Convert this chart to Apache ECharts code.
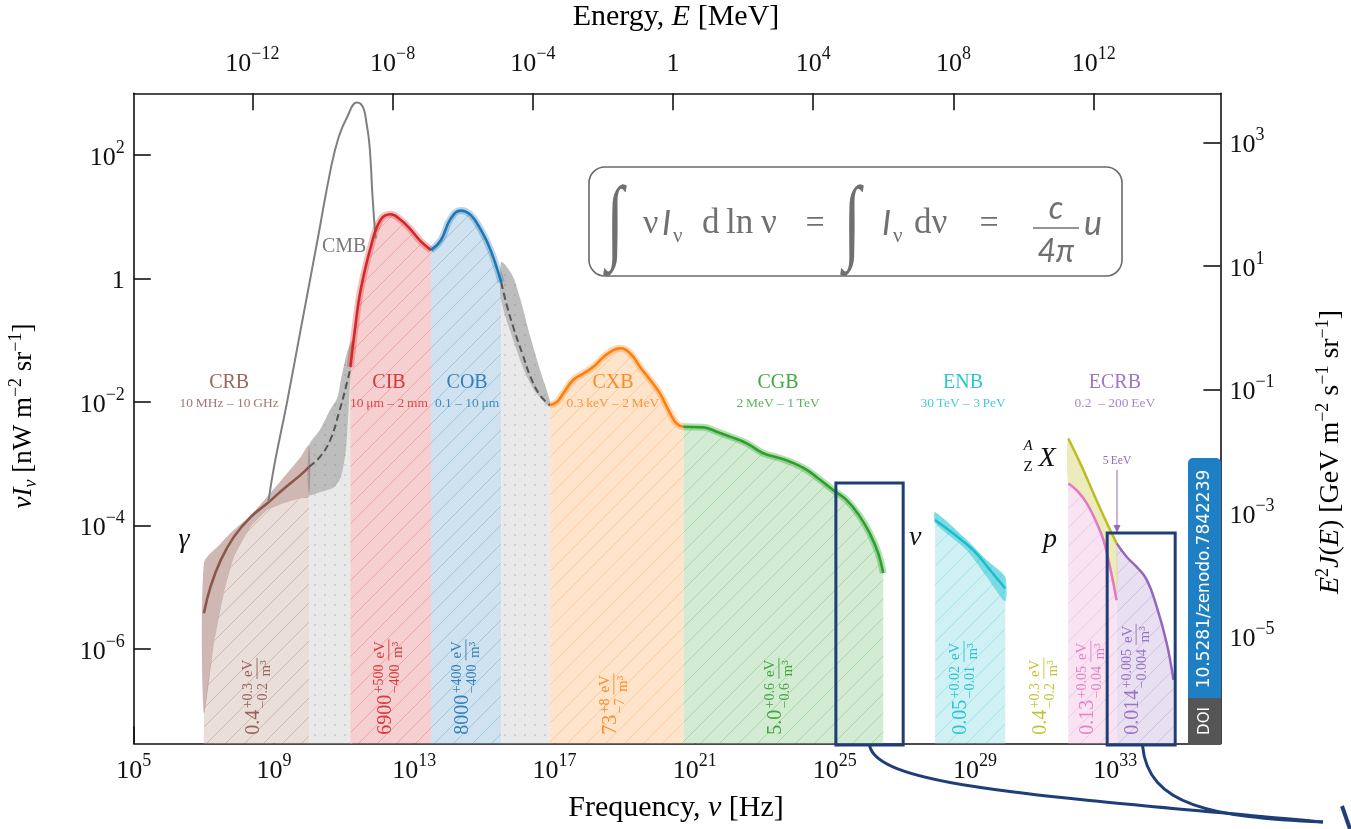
<!DOCTYPE html>
<html>
<head>
<meta charset="utf-8">
<script src="https://cdn.jsdelivr.net/npm/echarts@6/dist/echarts.min.js"></script>
<style>
  html, body { margin: 0; padding: 0; background: #fff; }
  #chart { width: 1351px; height: 829px; }
</style>
</head>
<body>
<div id="chart"></div>
<script>
// All curves are stored as [log10(nu / Hz), log10(nu I_nu / nW m^-2 sr^-1)] pairs.
const freqTicks = [5, 9, 13, 17, 21, 25, 29, 33];
const energyTicks = [-12, -8, -4, 0, 4, 8, 12];
const fluxTicks = [-6, -4, -2, 0, 2];
const e2jTicks = [-5, -3, -1, 1, 3];
const LOG_H_MEV = -20.3835;     // log10 of Planck constant in MeV s
const LOG_NW_TO_GEV = 0.7953;   // 1 nW = 6.242 GeV/s

const cmbCurve = [[8.84,-3.61],[9.00,-3.05],[9.19,-2.51],[9.38,-1.98],[9.76,-0.83],[10.24,0.62],[10.62,1.78],[10.85,2.30],[11.09,2.62],[11.36,2.85],[11.47,2.83],[11.57,2.73],[11.64,2.51],[11.71,2.24],[11.76,1.87],[11.80,1.43],[11.85,1.00],[11.90,0.65]];

const crbCurve = [[7.00,-5.42],[7.19,-4.99],[7.48,-4.56],[7.86,-4.18],[8.34,-3.86],[8.81,-3.64],[9.29,-3.40],[9.76,-3.18],[10.00,-3.05]];
const crbUpper = [[7.00,-4.61],[7.48,-4.29],[7.86,-4.07],[8.34,-3.83],[8.81,-3.53],[9.29,-3.21],[9.76,-2.89],[10.00,-2.70]];
const crbLower = [[7.00,-7.04],[7.29,-5.91],[7.57,-5.10],[7.86,-4.51],[8.34,-4.02],[8.81,-3.75],[9.29,-3.64],[9.76,-3.56],[10.00,-3.53]];

const radioGapUpper = [[10.00,-2.70],[10.31,-2.45],[10.60,-2.13],[10.80,-1.94],[10.91,-1.64],[11.08,-1.21],[11.23,-1.00]];
const radioGapLower = [[10.00,-3.50],[10.31,-3.46],[10.71,-3.38],[10.91,-3.21],[11.05,-2.78],[11.14,-1.97],[11.20,-1.45]];
const radioGapMid = [[10.00,-3.05],[10.31,-2.89],[10.60,-2.62],[10.85,-2.18],[11.08,-1.69],[11.19,-1.43]];

const cibCurve = [[11.18,-1.43],[11.33,-0.73],[11.47,-0.19],[11.76,0.51],[12.04,0.95],[12.33,1.04],[12.61,0.95],[12.90,0.79],[13.19,0.60],[13.48,0.46]];
const cobCurve = [[13.48,0.46],[13.76,0.62],[14.04,0.97],[14.33,1.10],[14.61,1.03],[14.90,0.79],[15.18,0.46],[15.48,-0.06]];

const uvGapUpper = [[15.48,0.27],[15.79,0.06],[16.02,-0.32],[16.30,-0.92],[16.59,-1.48],[16.87,-1.97]];
const uvGapLower = [[15.48,-0.35],[15.85,-1.04],[16.13,-1.48],[16.42,-1.81],[16.73,-2.02],[16.87,-2.08]];
const uvGapMid = [[15.48,-0.06],[15.65,-0.45],[15.85,-0.83],[16.08,-1.21],[16.33,-1.61],[16.59,-1.89],[16.87,-2.05]];

const cxbCurve = [[16.87,-2.05],[17.07,-2.00],[17.25,-1.86],[17.54,-1.64],[17.82,-1.54],[18.11,-1.43],[18.40,-1.27],[18.68,-1.16],[18.87,-1.13],[19.16,-1.21],[19.44,-1.43],[19.73,-1.64],[20.01,-1.86],[20.30,-2.18],[20.49,-2.35],[20.68,-2.40]];
const cgbCurve = [[20.68,-2.40],[21.25,-2.41],[21.63,-2.48],[22.01,-2.56],[22.49,-2.67],[22.96,-2.83],[23.44,-2.91],[23.82,-2.99],[24.20,-3.10],[24.58,-3.26],[24.96,-3.43],[25.34,-3.59],[25.72,-3.86],[26.00,-4.13],[26.24,-4.45],[26.38,-4.77]];

const enbCurve = [[27.86,-3.91],[28.38,-4.13],[28.95,-4.40],[29.43,-4.72],[29.86,-5.02]];
const enbUpper = [[27.86,-3.78],[28.76,-4.23],[29.33,-4.56],[29.86,-4.83]];
const enbLower = [[27.86,-3.96],[28.76,-4.40],[29.33,-4.83],[29.86,-5.23]];

const nucleiCurve = [[31.66,-2.59],[32.00,-2.99],[32.38,-3.48],[32.76,-3.96],[33.04,-4.29]];
const protonCurve = [[31.66,-3.32],[31.90,-3.43],[32.19,-3.64],[32.47,-3.96],[32.66,-4.23],[32.85,-4.67],[33.04,-5.21]];
const ecrbCurve = [[33.04,-4.29],[33.33,-4.51],[33.61,-4.67],[33.90,-4.88],[34.18,-5.31],[34.47,-5.91],[34.66,-6.50]];

const bandNames = ['CRB', 'CIB', 'COB', 'CXB', 'CGB', 'ENB', 'ECRB'];
const bandRanges = ['10\u2009MHz \u2013 10\u2009GHz', '10\u2009\u03bcm \u2013 2\u2009mm', '0.1 \u2013 10\u2009\u03bcm', '0.3\u2009keV \u2013 2\u2009MeV', '2\u2009MeV \u2013 1\u2009TeV', '30\u2009TeV \u2013 3\u2009PeV', '0.2  \u2013 200\u2009EeV'];
const energyDensities = [
  ['0.4', '+0.3', '\u22120.2'], ['6900', '+500', '\u2212400'], ['8000', '+400', '\u2212400'],
  ['73', '+8', '\u22127'], ['5.0', '+0.6', '\u22120.6'], ['0.05', '+0.02', '\u22120.01'],
  ['0.4', '+0.3', '\u22120.2'], ['0.13', '+0.05', '\u22120.04'], ['0.014', '+0.005', '\u22120.004']
];

// Placement of annotations (log10 nu, log10 flux)
const bandNameNu = [7.72, 12.28, 14.51, 18.67, 23.38, 28.66, 32.99];
const bandNameY = -1.69, bandRangeY = -2.02;
const densityNu = [8.43, 12.19, 14.39, 18.61, 23.32, 28.60, 30.88, 32.22, 33.51];
const densityY = -7.39;
const zoomBoxes = [[25.03, 26.95, -3.31], [32.77, 34.71, -4.12]];
const ankleNu = 33.05;

const SERIF = '"Liberation Serif", "DejaVu Serif", serif';
const SANS = 'Lato, "Open Sans", sans-serif';
const COL = {
  crb: '#8c564b', cmb: '#7f7f7f', cib: '#d62728', cob: '#1f77b4', cxb: '#ff7f0e', cgb: '#2ca02c',
  enb: '#17becf', nuc: '#bcbd22', pro: '#e377c2', ecrb: '#9467bd', box: '#1f3e78', gap: '#555555'
};

const X_MIN = 5, X_MAX = 36, Y_MIN = -7.53, Y_MAX = 3;
const SMOOTH = 0.45;

// ---- fill patterns -------------------------------------------------------
function hatch(bg, line, alpha) {
  const s = 19, c = document.createElement('canvas');
  c.width = c.height = s;
  const g = c.getContext('2d');
  g.fillStyle = bg; g.fillRect(0, 0, s, s);
  g.globalAlpha = alpha; g.strokeStyle = line; g.lineWidth = 1;
  g.beginPath();
  g.moveTo(-2, s + 2); g.lineTo(s + 2, -2);
  g.moveTo(-2, 2); g.lineTo(2, -2);
  g.moveTo(s - 2, s + 2); g.lineTo(s + 2, s - 2);
  g.stroke();
  return { image: c, repeat: 'repeat' };
}
function dots(bg, dot) {
  const s = 10, c = document.createElement('canvas');
  c.width = c.height = s;
  const g = c.getContext('2d');
  g.fillStyle = bg; g.fillRect(0, 0, s, s);
  g.fillStyle = dot;
  g.beginPath(); g.arc(5, 5, 0.9, 0, Math.PI * 2); g.fill();
  return { image: c, repeat: 'repeat' };
}

// ---- series builders ------------------------------------------------------
function fill(data, color, z) {
  return { type: 'line', data, z, symbol: 'none', silent: true, smooth: SMOOTH,
    lineStyle: { width: 0, opacity: 0 }, areaStyle: { color, opacity: 1, origin: 'start' },
    emphasis: { disabled: true } };
}
function curve(data, color, width, z, extra) {
  return Object.assign({ type: 'line', data, z, symbol: 'none', silent: true, smooth: SMOOTH,
    lineStyle: { color, width }, emphasis: { disabled: true } }, extra || {});
}
function band(upper, lower, color, z) {
  const pts = upper.concat(lower.slice().reverse());
  return { type: 'custom', coordinateSystem: 'cartesian2d', data: pts, z, silent: true, clip: true,
    renderItem: (params, api) => {
      if (params.dataIndex !== 0) return null;
      return { type: 'polygon', shape: { points: pts.map(p => api.coord(p)), smooth: 0.25 },
        style: { fill: color } };
    } };
}

const series = [
  fill(crbLower, hatch('#eadedb', COL.crb, 0.28), 1),
  fill(radioGapUpper, dots('#e9e9e9', '#c4c4c4'), 1),
  fill(cibCurve, hatch('#f6d0d1', COL.cib, 0.25), 1),
  fill(cobCurve, hatch('#d0e2ef', COL.cob, 0.25), 1),
  fill(uvGapUpper, dots('#e9e9e9', '#c4c4c4'), 1),
  fill(cxbCurve, hatch('#ffe4cc', COL.cxb, 0.25), 1),
  fill(cgbCurve, hatch('#d3ebd3', COL.cgb, 0.25), 1),
  fill(enbUpper, hatch('#cff1f4', COL.enb, 0.25), 1),
  fill(protonCurve, hatch('#f9e2f2', COL.pro, 0.25), 1),
  fill(ecrbCurve, hatch('#e8dff1', COL.ecrb, 0.25), 1),
  band(nucleiCurve, protonCurve, 'rgba(188,189,34,0.30)', 2),
  band(crbUpper, crbLower, 'rgba(140,86,75,0.42)', 2),
  band(radioGapUpper, radioGapLower, 'rgba(110,110,110,0.35)', 2),
  band(uvGapUpper, uvGapLower, 'rgba(110,110,110,0.35)', 2),
  band(enbUpper, enbLower, 'rgba(23,190,207,0.45)', 2),
  curve(cibCurve, 'rgba(214,39,40,0.3)', 7, 3),
  curve(cobCurve, 'rgba(31,119,180,0.3)', 7, 3),
  curve(cxbCurve, 'rgba(255,127,14,0.3)', 7, 3),
  curve(cgbCurve, 'rgba(44,160,44,0.35)', 7, 3),
  curve(crbCurve, COL.crb, 2.6, 4),
  curve(cmbCurve, COL.cmb, 2, 4),
  curve(radioGapMid, COL.gap, 2, 4, { lineStyle: { color: COL.gap, width: 2, type: [7, 4] } }),
  curve(uvGapMid, COL.gap, 2, 4, { lineStyle: { color: COL.gap, width: 2, type: [7, 4] } }),
  curve(cibCurve, COL.cib, 2.6, 4),
  curve(cobCurve, COL.cob, 2.6, 4),
  curve(cxbCurve, COL.cxb, 2.6, 4),
  curve(cgbCurve, COL.cgb, 2.6, 4),
  curve(enbCurve, COL.enb, 2.5, 4),
  curve(nucleiCurve, COL.nuc, 2.5, 4),
  curve(protonCurve, COL.pro, 2.5, 4),
  curve(ecrbCurve, COL.ecrb, 2.5, 4)
];

// ---- axes ---------------------------------------------------------------
const tickRich = {
  b: { fontFamily: SERIF, fontSize: 26, color: '#111', lineHeight: 32, verticalAlign: 'bottom' },
  s: { fontFamily: SERIF, fontSize: 18, color: '#111', lineHeight: 20, verticalAlign: 'top' }
};
function powLabel(v) {
  const n = Math.round(v);
  if (n === 0) return '{b|1}';
  return '{b|10}{s|' + (n < 0 ? '\u2212' + (-n) : n) + '}';
}
function axisCommon(ticks, extra, margin) {
  return Object.assign({
    type: 'value', splitLine: { show: false },
    axisLine: { show: true, onZero: false, lineStyle: { color: '#111', width: 1.6 } },
    axisTick: { show: true, inside: true, length: 17, customValues: ticks, lineStyle: { color: '#111', width: 1.6 } },
    minorTick: { show: false },
    axisLabel: { customValues: ticks, formatter: powLabel, rich: tickRich, margin: margin || 9 }
  }, extra);
}

const option = {
  animation: false,
  backgroundColor: '#fff',
  grid: { left: 133.8, right: 130.6, top: 93.25, bottom: 85.5, containLabel: false },
  xAxis: [
    axisCommon(freqTicks, { min: X_MIN, max: X_MAX, position: 'bottom' }),
    axisCommon(energyTicks, { min: X_MIN + LOG_H_MEV, max: X_MAX + LOG_H_MEV, position: 'top' }, 16)
  ],
  yAxis: [
    axisCommon(fluxTicks, { min: Y_MIN, max: Y_MAX, position: 'left' }),
    axisCommon(e2jTicks, { min: Y_MIN + LOG_NW_TO_GEV, max: Y_MAX + LOG_NW_TO_GEV, position: 'right' })
  ],
  series
};

const chart = echarts.init(document.getElementById('chart'));
chart.setOption(option);

// ---- annotations --------------------------------------------------------
const mctx = document.createElement('canvas').getContext('2d');
function textWidth(t, font) { mctx.font = font; return mctx.measureText(t).width; }
const toPx = (nu, f) => chart.convertToPixel({ xAxisIndex: 0, yAxisIndex: 0 }, [nu, f]);
const Z = 100;

function txt(x, y, text, font, fill, align, extra, opacity) {
  return Object.assign({ type: 'text', x, y, z: Z, silent: true,
    style: { text, font, fill, textAlign: align || 'center', textVerticalAlign: 'middle', opacity: opacity == null ? 1 : opacity } }, extra || {});
}

function densityLabel(p, vals, color) {
  const [main, up, lo] = vals;
  const fMain = '20px ' + SERIF, fScr = '14px ' + SERIF, fFrac = '15px ' + SERIF;
  const w1 = textWidth(main, fMain);
  const ws = Math.max(textWidth(up, fScr), textWidth(lo, fScr));
  const x0 = w1 + 1.5 + ws + 4;
  const wf = Math.max(textWidth('eV', fFrac), textWidth('m3', fFrac)) + 2;
  const t = (text, x, y, font, align) => ({ type: 'text', z: Z, silent: true,
    style: { text, x, y, font, fill: color, textAlign: align || 'left', textVerticalAlign: 'middle', opacity: 0.9 } });
  return { type: 'group', x: p[0], y: p[1], rotation: Math.PI / 2, z: Z, silent: true, children: [
    t(main, 0, 0, fMain),
    t(up, w1 + 1.5, -6, fScr),
    t(lo, w1 + 1.5, 9.5, fScr),
    t('eV', x0 + wf / 2, -5.5, fFrac, 'center'),
    { type: 'line', z: Z, silent: true, shape: { x1: x0, y1: 3, x2: x0 + wf, y2: 3 }, style: { stroke: color, lineWidth: 0.9, opacity: 0.9 } },
    t('m\u00b3', x0 + wf / 2, 12, fFrac, 'center')
  ] };
}

const bandColors = [COL.crb, COL.cib, COL.cob, COL.cxb, COL.cgb, COL.enb, COL.ecrb];
const densityColors = [COL.crb, COL.cib, COL.cob, COL.cxb, COL.cgb, COL.enb, COL.nuc, COL.pro, COL.ecrb];
const graphics = [];

bandNames.forEach((n, i) => {
  const a = toPx(bandNameNu[i], bandNameY), b = toPx(bandNameNu[i], bandRangeY);
  graphics.push(txt(a[0], a[1], n, '20px ' + SERIF, bandColors[i], 'center', null, 0.9));
  graphics.push(txt(b[0], b[1], bandRanges[i], '13.5px ' + SERIF, bandColors[i], 'center', null, 0.8));
});
energyDensities.forEach((v, i) => {
  graphics.push(densityLabel(toPx(densityNu[i], densityY), v, densityColors[i]));
});

// CMB name and particle symbols
const cmbPos = toPx(11.0, 0.51);
graphics.push(txt(cmbPos[0], cmbPos[1], 'CMB', '20px ' + SERIF, '#7a7a7a'));
const gPos = toPx(6.43, -4.23), nPos = toPx(27.29, -4.19), pPos = toPx(31.14, -4.23), xPos = toPx(30.71, -2.91);
graphics.push(txt(gPos[0], gPos[1], '\u03b3', 'italic 28px ' + SERIF, '#111'));
graphics.push(txt(nPos[0], nPos[1], '\u03bd', 'italic 28px ' + SERIF, '#111'));
graphics.push(txt(pPos[0], pPos[1], 'p', 'italic 28px ' + SERIF, '#111'));
graphics.push(txt(xPos[0] + 12, xPos[1], 'X', 'italic 28px ' + SERIF, '#111'));
graphics.push(txt(xPos[0] - 7, xPos[1] - 12, 'A', 'italic 15px ' + SERIF, '#111'));
graphics.push(txt(xPos[0] - 7, xPos[1] + 9, 'Z', '15px ' + SERIF, '#111'));

// ankle marker
const aTop = toPx(ankleNu, -3.10), aBot = toPx(ankleNu, -4.12), aTxt = toPx(ankleNu, -2.96);
graphics.push(txt(aTxt[0], aTxt[1], '5\u2009EeV', '11.5px ' + SERIF, COL.ecrb));
graphics.push({ type: 'line', z: Z, silent: true, shape: { x1: aTop[0], y1: aTop[1], x2: aBot[0], y2: aBot[1] - 4 }, style: { stroke: COL.ecrb, lineWidth: 1 } });
graphics.push({ type: 'polygon', z: Z, silent: true, shape: { points: [[aBot[0] - 3.5, aBot[1] - 8], [aBot[0] + 3.5, aBot[1] - 8], [aBot[0], aBot[1]]] }, style: { fill: COL.ecrb } });

// zoom boxes with their connector curves
const connectorEnd = [1323, 822];
zoomBoxes.forEach(([n0, n1, top], i) => {
  const tl = toPx(n0, top), br = toPx(n1, Y_MIN);
  graphics.push({ type: 'rect', z: Z + 1, silent: true,
    shape: { x: tl[0], y: tl[1], width: br[0] - tl[0], height: br[1] - tl[1] + 1.5 },
    style: { fill: 'none', stroke: COL.box, lineWidth: 3 } });
  const sx = i === 0 ? tl[0] + 0.5 * (br[0] - tl[0]) : tl[0] + 0.52 * (br[0] - tl[0]);
  const sy = br[1] + 2;
  const cp1 = i === 0 ? [sx + 8, sy + 40] : [sx + 5, sy + 60];
  const cp2 = i === 0 ? [sx + 160, sy + 50] : [sx + 70, sy + 72];
  graphics.push({ type: 'bezierCurve', z: Z + 1, silent: true,
    shape: { x1: sx, y1: sy, cpx1: cp1[0], cpy1: cp1[1], cpx2: cp2[0], cpy2: cp2[1], x2: connectorEnd[0], y2: connectorEnd[1] },
    style: { stroke: COL.box, lineWidth: 3, fill: 'none' } });
});
graphics.push({ type: 'line', z: Z + 1, silent: true, shape: { x1: 1342, y1: 806, x2: 1350, y2: 829 }, style: { stroke: COL.box, lineWidth: 4 } });

// integral relation box
const F = '#707070';
graphics.push({ type: 'rect', z: Z, silent: true, shape: { x: 589, y: 167, width: 533, height: 109, r: 16 },
  style: { fill: '#fff', stroke: '#6a6a6a', lineWidth: 1.6 } });
graphics.push(txt(615, 226, '\u222b', '78px ' + SERIF, F, 'center', { scaleX: 0.8, scaleY: 1.2 }));
graphics.push(txt(643, 224, '\u03bd', '34px ' + SERIF, F, 'left'));
graphics.push(txt(662, 224, 'I', 'italic 34px ' + SANS, F, 'left'));
graphics.push(txt(673, 236, '\u03bd', '21px ' + SERIF, F, 'left'));
graphics.push(txt(702, 224, 'd', '35px ' + SERIF, F, 'left'));
graphics.push(txt(726, 224, 'ln', '35px ' + SERIF, F, 'left'));
graphics.push(txt(761, 224, '\u03bd', '35px ' + SERIF, F, 'left'));
graphics.push(txt(815, 224, '=', '34px ' + SERIF, F));
graphics.push(txt(852, 226, '\u222b', '78px ' + SERIF, F, 'center', { scaleX: 0.8, scaleY: 1.2 }));
graphics.push(txt(882, 224, 'I', 'italic 34px ' + SANS, F, 'left'));
graphics.push(txt(893, 236, '\u03bd', '21px ' + SERIF, F, 'left'));
graphics.push(txt(914, 224, 'd\u03bd', '35px ' + SERIF, F, 'left'));
graphics.push(txt(989, 224, '=', '34px ' + SERIF, F));
graphics.push(txt(1056, 209, 'c', 'italic 32px ' + SANS, F));
graphics.push({ type: 'line', z: Z, silent: true, shape: { x1: 1033, y1: 228, x2: 1079, y2: 228 }, style: { stroke: F, lineWidth: 1.6 } });
graphics.push(txt(1056, 252, '4\u03c0', 'italic 32px ' + SANS, F));
graphics.push(txt(1084, 224, 'u', 'italic 34px ' + SANS, F, 'left'));

// DOI badge
graphics.push({ type: 'rect', z: Z + 2, silent: true, shape: { x: 1188, y: 458, width: 33, height: 287, r: [5, 5, 3, 3] }, style: { fill: '#1f7fc4' } });
graphics.push({ type: 'rect', z: Z + 2, silent: true, shape: { x: 1188, y: 698, width: 33, height: 47, r: [0, 0, 3, 3] }, style: { fill: '#555' } });
graphics.push(txt(1205, 579, '10.5281/zenodo.7842239', '17px "DejaVu Sans", sans-serif', '#fff', 'center', { rotation: Math.PI / 2, z: Z + 3 }));
graphics.push(txt(1205, 721, 'DOI', '15px "DejaVu Sans", sans-serif', '#fff', 'center', { rotation: Math.PI / 2, z: Z + 3 }));

// axis titles
function nameRich(size) {
  const s = Math.round(size * 0.65);
  return {
    n: { fontFamily: SERIF, fontSize: size, color: '#111', lineHeight: size + 6, verticalAlign: 'middle' },
    i: { fontFamily: SERIF, fontSize: size, fontStyle: 'italic', color: '#111', lineHeight: size + 6, verticalAlign: 'middle' },
    sup: { fontFamily: SERIF, fontSize: s, color: '#111', lineHeight: s + 3, verticalAlign: 'top' },
    sub: { fontFamily: SERIF, fontSize: s, fontStyle: 'italic', color: '#111', lineHeight: s + 3, verticalAlign: 'bottom' }
  };
}
function richTitle(x, y, text, size, rot) {
  return { type: 'text', x, y, rotation: rot || 0, z: Z, silent: true,
    style: { text, rich: nameRich(size), textAlign: 'center', textVerticalAlign: 'middle' } };
}
graphics.push(richTitle(676, 808, '{n|Frequency, }{i|\u03bd}{n| [Hz]}', 30));
graphics.push(richTitle(676, 17, '{n|Energy, }{i|E}{n| [MeV]}', 30));
graphics.push(richTitle(24, 416, '{i|\u03bdI}{sub|\u03bd}{n| [nW m}{sup|\u22122}{n| sr}{sup|\u22121}{n|]}', 27, Math.PI / 2));
graphics.push(richTitle(1331, 452, '{i|E}{sup|2}{i|J}{n|(}{i|E}{n|) [GeV m}{sup|\u22122}{n| s}{sup|\u22121}{n| sr}{sup|\u22121}{n|]}', 28, Math.PI / 2));

chart.setOption({ graphic: graphics });
</script>
</body>
</html>
